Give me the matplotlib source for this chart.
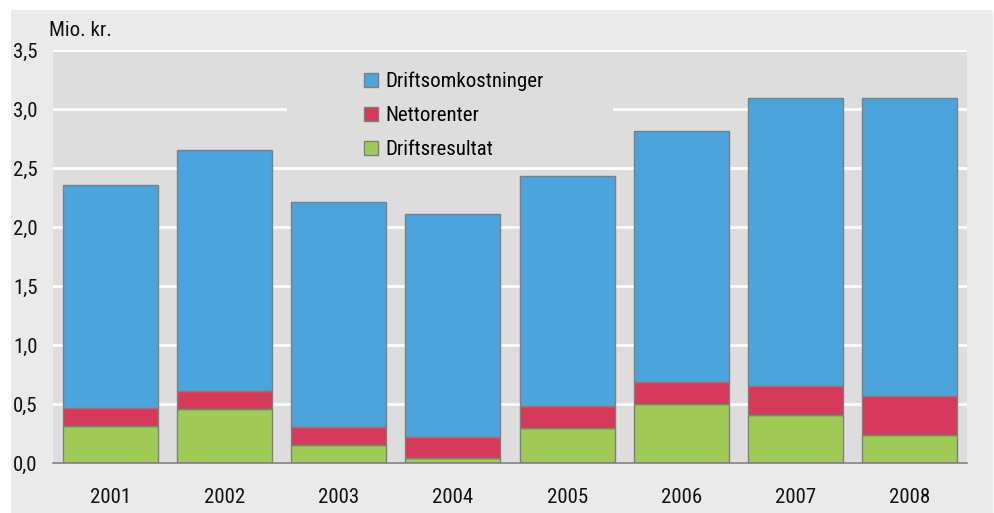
import matplotlib
matplotlib.use("Agg")
import matplotlib.pyplot as plt
from matplotlib import font_manager
from matplotlib.patches import Rectangle
import numpy as np

years = ["2001", "2002", "2003", "2004", "2005", "2006", "2007", "2008"]
driftsresultat = [0.31, 0.46, 0.15, 0.04, 0.30, 0.50, 0.41, 0.24]
nettorenter = [0.155, 0.15, 0.155, 0.18, 0.18, 0.19, 0.24, 0.33]
totals = [2.355, 2.655, 2.215, 2.11, 2.43, 2.815, 3.09, 3.09]
driftsomkost = [t - a - b for t, a, b in zip(totals, driftsresultat, nettorenter)]

yticks = [0.0, 0.5, 1.0, 1.5, 2.0, 2.5, 3.0, 3.5]
ytick_labels = ["0,0", "0,5", "1,0", "1,5", "2,0", "2,5", "3,0", "3,5"]

c_blue = "#4BA4DC"
c_red = "#D7395A"
c_green = "#9ECA55"
edge = "#7F7F7F"

names = {f.name for f in font_manager.fontManager.ttflist}
font = "Liberation Sans"
for cand in ["Liberation Sans Narrow", "Roboto Condensed", "DejaVu Sans Condensed",
             "Open Sans Condensed", "Noto Sans Condensed", "Arial Narrow", "Liberation Sans"]:
    if cand in names:
        font = cand
        break
plt.rcParams['font.family'] = [font, 'DejaVu Sans']
fs = 15 if "Narrow" in font or "Condensed" in font else 13

W, H = 995, 513
fig = plt.figure(figsize=(W / 100, H / 100), dpi=100, facecolor="white")
fig.patches.append(Rectangle((11 / W, 0), (993 - 11) / W, (H - 10) / H,
                             transform=fig.transFigure, facecolor="#EAEAEA",
                             edgecolor="none", zorder=-10))

left, right, top, bottom = 53, 967, 50, 463
ax = fig.add_axes([left / W, 1 - bottom / H, (right - left) / W, (bottom - top) / H])
ax.set_facecolor("#DDDDDD")

x = np.arange(len(years))
bw = 0.83
ax.bar(x, driftsresultat, bw, color=c_green, edgecolor=edge, linewidth=1, label="Driftsresultat", zorder=3)
ax.bar(x, nettorenter, bw, bottom=driftsresultat, color=c_red, edgecolor=edge, linewidth=1, label="Nettorenter", zorder=3)
ax.bar(x, driftsomkost, bw, bottom=np.array(driftsresultat) + np.array(nettorenter),
       color=c_blue, edgecolor=edge, linewidth=1, label="Driftsomkostninger", zorder=3)

ax.set_xlim(-0.5, len(years) - 0.5)
ax.set_ylim(0, 3.5)
ax.set_yticks(yticks)
ax.set_yticklabels(ytick_labels)
ax.set_xticks(x)
ax.set_xticklabels(years)
ax.yaxis.grid(True, color="white", linewidth=2, zorder=0)
ax.set_axisbelow(True)
ax.tick_params(axis="y", length=0, pad=11, labelsize=fs, colors="#111111")
ax.tick_params(axis="x", length=0, pad=18, labelsize=fs, colors="#111111")
for s in ["top", "right", "left"]:
    ax.spines[s].set_visible(False)
ax.spines["bottom"].set_color("#808080")
ax.spines["bottom"].set_linewidth(1.2)
ax.spines["bottom"].set_zorder(4)

# legend background box hiding gridlines
ax.add_patch(Rectangle((0.256, 0.734), 0.613 - 0.256, 0.988 - 0.734,
                       transform=ax.transAxes, facecolor="#DDDDDD",
                       edgecolor="none", zorder=1))

handles, labels = ax.get_legend_handles_labels()
leg = ax.legend(handles[::-1], labels[::-1], loc="upper left",
                bbox_to_anchor=(0.340, 0.948), frameon=False,
                fontsize=fs, handlelength=0.68, handleheight=0.68,
                handletextpad=0.35, labelspacing=0.72, borderpad=0,
                borderaxespad=0)
leg.set_zorder(5)

fig.text(49 / W, 1 - 36 / H, "Mio. kr.", fontsize=fs, ha="left", va="baseline", color="#111111")

fig.savefig("out.png", dpi=100, facecolor=fig.get_facecolor())
